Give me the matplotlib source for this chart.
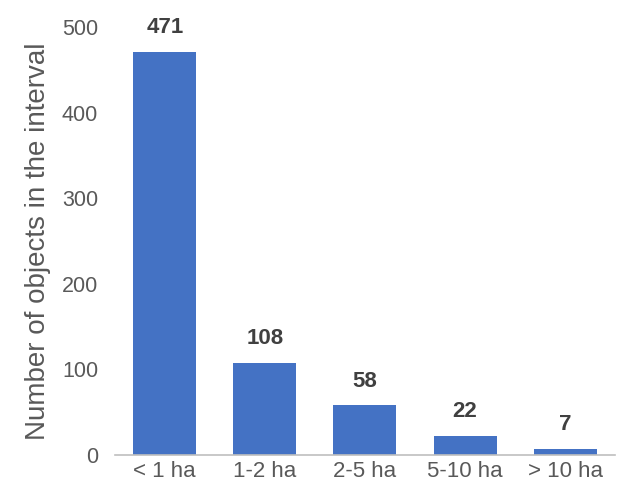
import matplotlib.pyplot as plt

plt.rcParams['font.family'] = ['Liberation Sans', 'DejaVu Sans']

categories = ['< 1 ha', '1-2 ha', '2-5 ha', '5-10 ha', '> 10 ha']
counts = [471, 108, 58, 22, 7]
yticks = [0, 100, 200, 300, 400, 500]

grey = '#595959'
fig = plt.figure(figsize=(6.17, 4.94), dpi=100)
ax = fig.add_axes([0.186, 0.079, 0.811, 0.866])

bars = ax.bar(range(len(categories)), counts, width=0.63, color='#4472C4')
for b, v in zip(bars, counts):
    ax.text(b.get_x() + b.get_width() / 2, v + 16, str(v), ha='center', va='bottom',
            fontsize=16, fontweight='bold', color='#404040')

ax.set_xlim(-0.5, len(categories) - 0.5)
ax.set_ylim(0, 500)
ax.set_xticks(range(len(categories)))
ax.set_xticklabels(categories)
ax.set_yticks(yticks)
ax.tick_params(axis='both', length=0, labelsize=15.5, colors=grey)
ax.tick_params(axis='x', labelsize=16, pad=4)
ax.tick_params(axis='y', pad=12)
ax.set_ylabel('Number of objects in the interval', fontsize=20, color=grey, labelpad=8)

for s in ['top', 'right', 'left']:
    ax.spines[s].set_visible(False)
ax.spines['bottom'].set_color('#BFBFBF')
ax.spines['bottom'].set_linewidth(1.2)

fig.savefig('out.png', dpi=100)
